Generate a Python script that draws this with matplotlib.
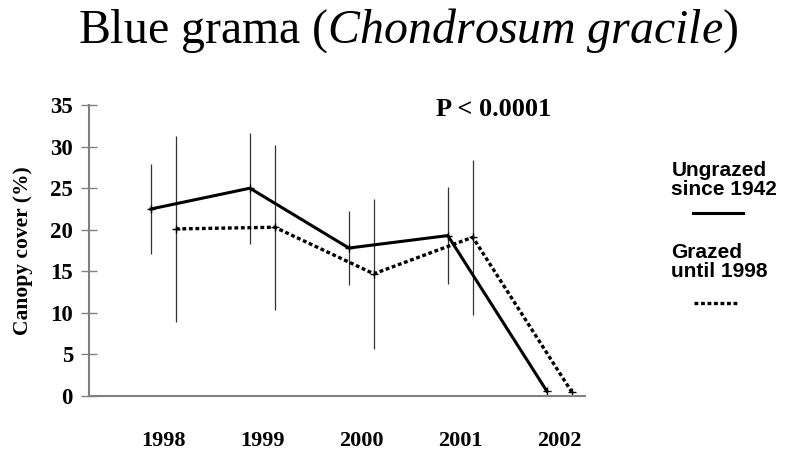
import matplotlib
matplotlib.use("Agg")
import matplotlib.pyplot as plt
import numpy as np

years = ["1998", "1999", "2000", "2001", "2002"]
ungrazed = [22.5, 25.0, 17.8, 19.3, 0.6]
ungrazed_err = [5.4, 6.7, 4.5, 5.8, 0.0]
grazed = [20.1, 20.3, 14.7, 19.1, 0.5]
grazed_err = [11.2, 9.9, 9.0, 9.35, 0.0]
yticks = [0, 5, 10, 15, 20, 25, 30, 35]

plt.rcParams['mathtext.fontset'] = 'custom'
plt.rcParams['mathtext.rm'] = 'Liberation Serif'
plt.rcParams['mathtext.it'] = 'Liberation Serif:italic'

serif = ["Liberation Serif", "DejaVu Serif"]
sans = ["Liberation Sans", "DejaVu Sans"]

fig = plt.figure(figsize=(7.87, 4.51), dpi=100)
ax = fig.add_axes([0.113, 0.122, 0.630, 0.645])

x = np.arange(len(years))
off = 0.126
x1 = x - off
x2 = x + off

ax.errorbar(x1, ungrazed, yerr=ungrazed_err, fmt='none', ecolor='#333333', elinewidth=0.9, capsize=0)
ax.errorbar(x2, grazed, yerr=grazed_err, fmt='none', ecolor='#333333', elinewidth=0.9, capsize=0)
ax.plot(x1, ungrazed, color='black', lw=2.2, marker='+', ms=6, mew=1)
ax.plot(x2, grazed, color='black', lw=2.4, linestyle=(0, (1.15, 0.8)), marker='+', ms=6, mew=1)

ax.set_xlim(-0.753, 4.258)
ax.set_ylim(0, 35)
ax.set_yticks(yticks)
ax.set_yticklabels([str(t) for t in yticks], family=serif, fontweight='bold', fontsize=16.5)
ax.set_xticks(x)
ax.set_xticklabels(years, family=serif, fontweight='bold', fontsize=16)
ax.tick_params(axis='x', length=0, pad=25)
ax.tick_params(axis='y', direction='inout', length=11, width=1, color='#808080', pad=6)

for s in ['top', 'right']:
    ax.spines[s].set_visible(False)
for s in ['left', 'bottom']:
    ax.spines[s].set_color('#808080')
    ax.spines[s].set_linewidth(1.5)

ax.set_ylabel("Canopy cover (%)", family=serif, fontweight='bold', fontsize=15.5)
ax.yaxis.set_label_coords(-0.113, 0.5)

fig.text(0.518, 0.933, "Blue grama ($\\it{Chondrosum\\ gracile}$)", family=serif, fontsize=34.5,
         ha='center', va='center')

ax.text(0.817, 0.986, "P < 0.0001", transform=ax.transAxes, family=serif, fontweight='bold',
        fontsize=19, ha='center', va='center')

fig.text(0.853, 0.601, "Ungrazed\nsince 1942", family=sans, fontweight='bold', fontsize=15,
         ha='left', va='center', linespacing=0.95)
fig.lines.append(plt.Line2D([0.881, 0.944], [0.528, 0.528], transform=fig.transFigure,
                            color='black', lw=2.2))
fig.text(0.853, 0.419, "Grazed\nuntil 1998", family=sans, fontweight='bold', fontsize=15,
         ha='left', va='center', linespacing=0.95)
fig.lines.append(plt.Line2D([0.882, 0.938], [0.328, 0.328], transform=fig.transFigure,
                            color='black', lw=2.4, linestyle=(0, (1.15, 0.8))))

fig.savefig("out.png", dpi=100)
